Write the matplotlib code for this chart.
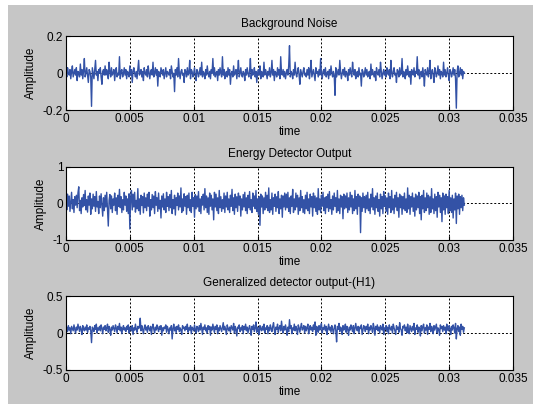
import numpy as np
import matplotlib
matplotlib.use("Agg")
import matplotlib.pyplot as plt
from matplotlib.patches import Rectangle

plt.rcParams['font.family'] = ['Liberation Sans', 'DejaVu Sans']

# sample rate of the recordings (samples per second)
fs = 16000

# Background noise, in units of 0.01
noise_vals = [
    1, -2, 3, 0, -1, 2, -3, 1, 4, -2, 0, 2, -1, 3, -4, 1, 0, -2, 5, -1, 2, -3, 1, 8, -2,
    0, 3, -1, -5, 2, 1, -2, -18, 3, 0, -3, 2, 7, -1, 1, -4, 2, 0, 3, -2, -6, 1, 2, -1, 4,
    -1, 2, 0, -3, 6, 1, -2, 3, -1, 0, 2, -4, 1, 3, -2, 0, -1, 9, -3, 1, 2, -2, 0, 3, -1,
    2, -3, 1, 0, -2, 4, -1, 2, -5, 1, 3, 0, -2, 1, -3, 2, 7, -1, 0, 2, -2, 1, -4, 3, 0,
    -1, 2, -2, 4, 0, -3, 1, 2, -1, 6, -2, 0, 3, -1, 2, -7, 1, 0, -2, 3, 1, -1, 2, -3, 0,
    3, -2, 1, 0, -1, 2, -3, 4, 1, -2, 0, -10, 2, -1, 3, -2, 8, 0, -3, 1, 2, -1, 0, -5, 2,
    1, -2, 3, -1, 0, 7, -3, 2, 1, -2, 0, 3, -1, -4, 2, 1, -2, 0, 3, -1, 6, -2, 1, 0, -3,
    2, -1, 4, 0, -2, 1, -3, 2, 0, 8, -1, 3, -2, 0, 1, -4, 2, -1, 3, 0, -2, 9, -1, 2, -3,
    0, 1, -2, 3, -1, 2, -6, 0, 1, -2, 4, -1, 0, 2, -3, 1, 7, -2, 0, 3, -1, -2, 1, 0, -4,
    2, -1, 3, 0, -2, 1, 8, -3, 2, -1, 0, 3, -2, 1, -5, 0, 2, -1, 4, -3, 1, 0, -2, 6, -1,
    2, 0, -3, 1, -1, 3, -2, 0, 7, -1, 2, -4, 1, 0, -2, 3, -1, 2, -3, 9, 0, -1, 2, -2, 1,
    -3, 0, 2, -1, 4, 15, -2, 1, 0, -3, 2, -1, 6, 0, -2, 1, 3, -1, -6, 2, 0, -2, 1, 3, -1,
    0, -2, 2, -1, 3, -3, 1, 7, -2, 0, 2, -1, -4, 3, 0, 1, -2, 2, -1, 8, 0, -3, 1, 2, -1,
    3, -2, 0, 1, -3, 2, -1, 4, 0, -2, 1, -1, -12, 3, -2, 0, 2, -1, 7, 1, -3, 0, 2, -1, 3,
    -2, 1, 0, -4, 2, -1, 3, 0, -2, 6, 1, -1, 2, -3, 0, 1, -2, 3, -1, 0, -7, 2, 1, -2, 0,
    3, -1, 2, -2, 0, 1, -3, 5, -1, 2, 0, -2, 1, -4, 3, 0, -1, 2, -2, 6, 1, -3, 0, 2, -1,
    1, -2, 3, 0, -1, 2, -3, 7, 0, -2, 1, 3, -1, 0, -5, 2, 1, -2, 3, -1, 0, 8, -2, 1, 0,
    -3, 2, -1, 4, 0, -2, 1, -6, 2, 0, -1, 3, -2, 1, 0, 9, -1, 2, -3, 0, 1, -2, 3, -1, -7,
    2, 0, -1, 3, -2, 1, 7, -3, 0, 2, -1, -5, 3, 1, -2, 0, 4, -1, 2, -3, 1, 0, -2, 6, -1,
    2, -2, 0, 3, -1, -4, 2, 1, -2, 0, 3, -1, 2, -3, -19, 1, 4, -2, 0, 3, -1, 2, -3, 1, 0,
]

# Energy detector output, in units of 0.01
energy_vals = [
    12, -18, 25, -8, 20, -22, 5, 30, -15, 10, -25, 18, -5, 22, -12, 28, 45, -20, 8, -28, 15, -10, 24, -6, 35,
    -18, 10, -24, 20, -5, 28, -30, 12, -15, 25, -8, 18, -22, 32, -10, 5, -28, 20, -12, 26, -4, -35, 15, -20, 22,
    -10, 30, -18, -62, 8, 24, -15, 20, -25, 12, -5, 28, -20, 15, -30, 22, -8, 38, -12, 18, -25, 10, -18, 30, -5,
    20, -22, 12, -28, 26, -70, 15, 35, -18, 25, -10, 30, -24, 8, -15, 40, -20, 12, -30, 22, -6, 18, -26, 28, -12,
    15, -20, 25, -8, 30, -35, 10, -18, 24, -12, 20, -28, 32, -5, 15, -22, 28, -15, 8, -40, 20, -10, 26, -18, 12,
    -25, 30, -8, 18, -20, 24, -12, 35, -28, 10, -15, 22, -32, 15, -6, 28, -18, 20, -10, 42, -25, 12, -20, 26, -8,
    18, -30, 22, -12, 28, -20, 10, -25, 30, -8, 15, -38, 24, -15, 20, -10, 32, -22, 12, -28, 18, -5, 25, -18, 40,
    -12, 20, -25, 15, -30, 28, -8, 22, -18, 12, -45, 30, -10, 25, -20, 15, -28, 35, -12, 18, -22, 10, -15, 28, -25,
    20, -10, 30, -18, 12, -25, 22, -8, 38, -20, 15, -30, 25, -12, 18, -22, 28, -5, 20, -35, 12, -18, 24, -10, 30,
    -20, 15, -28, 22, -12, 32, -18, 10, -25, 28, -8, 20, -15, 35, -22, 12, -30, 18, -60, 25, -10, 20, -28, 15, -18,
    30, -12, 22, -20, 42, -25, 10, -18, 28, -30, 15, -8, 25, -22, 18, -12, 32, -28, 12, -15, 22, -38, 20, -10, 28,
    -18, 25, -12, 30, -22, 15, -28, 20, -8, 38, -25, 12, -18, 28, -10, 22, -30, 15, -20, 35, -12, 18, -25, 10, -28,
    22, -15, 30, -20, 12, -28, 25, -10, 18, -35, 28, -12, 20, -22, 15, -30, 40, -18, 12, -25, 22, -8, 30, -20, 15,
    -28, 18, -12, 25, -22, 32, -15, 10, -30, 20, -18, 28, -8, 15, -25, 35, -20, 12, -28, 22, -10, 18, -42, 25, -15,
    20, -12, 28, -25, 15, -18, 30, -10, 22, -28, 12, -20, 35, -15, 18, -30, 25, -8, 20, -80, 15, -22, 28, -12, 18,
    -25, 22, -15, 30, -20, 12, -28, 25, -10, 40, -18, 15, -30, 20, -12, 28, -22, 10, -35, 25, -15, 18, -28, 32, -8,
    20, -22, 15, -30, 28, -12, 18, -25, 35, -18, 12, -28, 22, -10, 30, -20, 15, -38, 25, -12, 20, -30, 18, -15, 28,
    -20, 12, -25, 42, -15, 22, -30, 18, -10, 28, -22, 15, -35, 25, -18, 20, -12, 30, -28, 18, -45, 22, -15, 35, -25,
    15, -20, 28, -12, 22, -30, 18, -25, 40, -15, 12, -28, 25, -20, 18, -38, 30, -10, 22, -25, 15, -50, 28, -18, 20,
    -30, 25, -12, 18, -28, 35, -20, 15, -25, 22, -40, 12, -18, 28, -55, 20, -15, 25, -30, 18, -12, 22, -20, 15, -5,
]

# Generalized detector output (H1), in units of 0.01
general_vals = [
    5, 8, 2, 10, 4, 7, -1, 9, 6, 3, 11, 5, 0, 8, 4, 12, 7, 2, 9, 5, -2, 10, 6, 3, 8,
    4, 11, 1, 7, 5, 9, 3, -13, 8, 6, 2, 10, 5, 12, 0, 7, 4, 9, 3, 11, 6, -1, 8, 5, 10,
    3, 7, 12, 1, 9, 5, -3, 8, 4, 10, 6, 2, 11, 7, 0, 9, 5, 13, 3, 8, -1, 6, 10, 4, 7,
    2, 9, 5, 11, 0, 8, 6, 3, 10, -2, 7, 4, 12, 5, 1, 9, 6, 8, 20, 3, 10, 5, -1, 7, 11,
    4, 8, 1, 10, 6, 3, 9, -2, 7, 12, 5, 0, 8, 4, 11, 6, 2, 9, 5, 10, -3, 7, 3, 8, 6,
    11, 1, 9, 5, -1, 7, 4, 10, -8, 6, 12, 3, 8, 0, 9, 5, 11, 2, 7, 4, -2, 10, 6, 8, 3,
    9, 5, 12, 1, 7, 4, 10, -1, 8, 6, 3, 11, 5, 0, 9, 7, 2, 10, 4, 13, 6, -2, 8, 5, 11,
    3, 7, 0, 10, 5, 9, -3, 8, 4, 12, 6, 1, 9, 5, 11, -1, 7, 3, 10, 6, 2, 8, 14, 4, 9,
    5, -2, 11, 6, 3, 8, 1, 10, 7, 4, 13, 0, 9, 5, -4, 8, 6, 11, 2, 7, 4, 10, -1, 9, 5,
    12, 3, 8, 0, 6, 10, 4, -3, 9, 5, 11, 2, 7, 15, 1, 8, 5, -2, 10, 6, 3, 9, 4, 12, 0,
    7, 5, 10, -1, 8, 3, 11, 6, 2, 9, 14, 4, -2, 8, 5, 12, 1, 7, 10, 3, 16, 6, 0, 9, 4,
    11, 5, -3, 8, 2, 18, 6, 10, -1, 7, 4, 12, 3, 9, 5, -2, 11, 7, 1, 8, 13, 4, 6, 10, 0,
    9, 3, 7, 12, -1, 6, 10, 4, 8, 2, 11, 5, 15, -3, 9, 6, 1, 10, 4, 8, 13, 0, 7, 5, 11,
    3, 9, -2, 6, 12, 4, 8, 1, 10, 5, -1, 7, 11, 3, -12, 9, 5, 13, 2, 8, 6, -2, 10, 4, 7,
    12, 1, 9, 5, -3, 8, 4, 11, 6, 2, 10, -1, 7, 13, 5, 3, 9, 0, 8, 6, 11, -2, 4, 10, 7,
    2, 9, 5, 12, -1, 8, 4, 10, 6, 1, 13, 7, -3, 9, 5, 11, 3, 8, 0, 10, 6, 4, 12, -2, 7,
    5, 10, 2, 8, -1, 11, 6, 4, 9, 0, 12, 7, 3, -2, 10, 5, 8, 1, 14, 6, 4, -3, 9, 7, 11,
    3, 8, 0, 12, 5, -1, 10, 6, 2, 9, 4, 13, -2, 7, 5, 11, 1, 8, 6, -4, 10, 3, 9, 12, 0,
    7, 4, 11, -2, 8, 5, 13, 2, 9, 6, -1, 10, 4, 8, 12, 0, 7, 5, -3, 11, 6, 9, 2, 10, 4,
    8, -1, 12, 5, 3, 10, 6, -2, 9, 4, 11, 7, 0, 13, -8, 6, 10, 2, 8, -3, 12, 5, 9, 1, 7,
]

titles = ["Background Noise", "Energy Detector Output", "Generalized detector output-(H1)"]
series = [noise_vals, energy_vals, general_vals]
ylims = [(-0.2, 0.2), (-1, 1), (-0.5, 0.5)]
yticks = [[-0.2, 0, 0.2], [-1, 0, 1], [-0.5, 0, 0.5]]
ytick_labels = [["-0.2", "0", "0.2"], ["-1", "0", "1"], ["-0.5", "0", "0.5"]]
xticks = [0, 0.005, 0.01, 0.015, 0.02, 0.025, 0.03, 0.035]
xtick_labels = ["0", "0.005", "0.01", "0.015", "0.02", "0.025", "0.03", "0.035"]

fig = plt.figure(figsize=(5.33, 4.04), dpi=100)
fig.patch.set_facecolor("white")
fig.patches.append(Rectangle((8 / 533, 0), 1, 1 - 5 / 404, transform=fig.transFigure,
                             facecolor="#c6c6c6", edgecolor="none", zorder=-10))

# axes boxes (left, bottom, width, height) in figure fractions
boxes = [
    [0.1238, 0.7277, 0.8387, 0.182],
    [0.1238, 0.4060, 0.8387, 0.1815],
    [0.1238, 0.0842, 0.8387, 0.1830],
]

for i in range(3):
    ax = fig.add_axes(boxes[i])
    y = np.array(series[i]) / 100.0
    t = np.arange(len(y)) / fs
    ax.plot(t, y, color="#3352a6", lw=1.0)
    ax.set_xlim(0, 0.035)
    ax.set_ylim(*ylims[i])
    ax.set_xticks(xticks)
    ax.set_xticklabels(xtick_labels)
    ax.set_yticks(yticks[i])
    ax.set_yticklabels(ytick_labels[i])
    ax.grid(True, color="black", linestyle=(0, (2, 2)), lw=0.7)
    ax.tick_params(direction="in", length=3, labelsize=8.5, pad=2)
    ax.set_title(titles[i], fontsize=8.5, pad=7)
    ax.set_xlabel("time", fontsize=8.5, labelpad=1)
    ax.set_ylabel("Amplitude", fontsize=8.5, labelpad=4)
    for s in ax.spines.values():
        s.set_linewidth(0.8)

fig.savefig("out.png", dpi=100, facecolor=fig.get_facecolor())
